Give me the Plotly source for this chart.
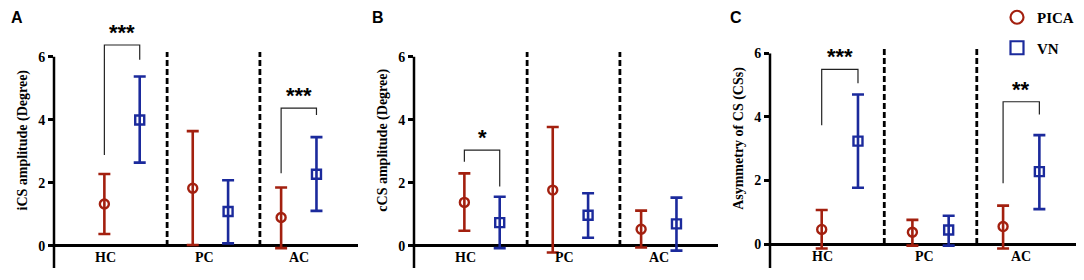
import plotly.graph_objects as go

# ---------------- data ----------------
groups = ["HC", "PC", "AC"]
series = ["PICA", "VN"]

# Panel A: iCS amplitude (Degree)
a_pica_mean = [1.33, 1.83, 0.90]
a_pica_up = [2.28, 3.64, 1.85]
a_pica_lo = [0.38, 0.03, -0.07]
a_vn_mean = [3.99, 1.09, 2.27]
a_vn_up = [5.37, 2.08, 3.45]
a_vn_lo = [2.64, 0.08, 1.11]

# Panel B: cCS amplitude (Degree)
b_pica_mean = [1.38, 1.77, 0.53]
b_pica_up = [2.30, 3.77, 1.12]
b_pica_lo = [0.48, -0.21, -0.05]
b_vn_mean = [0.74, 0.97, 0.70]
b_vn_up = [1.56, 1.67, 1.53]
b_vn_lo = [-0.07, 0.26, -0.15]

# Panel C: Asymmetry of CS (CSs)
c_pica_mean = [0.46, 0.37, 0.55]
c_pica_up = [1.07, 0.76, 1.21]
c_pica_lo = [-0.14, -0.05, -0.14]
c_vn_mean = [3.24, 0.44, 2.28]
c_vn_up = [4.71, 0.89, 3.43]
c_vn_lo = [1.77, -0.05, 1.10]

y_titles = ["iCS amplitude (Degree)", "cCS amplitude (Degree)", "Asymmetry of CS (CSs)"]
panel_letters = ["A", "B", "C"]
y_ticks = [0, 2, 4, 6]

# significance brackets: (panel, group index, top, left leg end, right leg end, label)
brackets = [
    (0, 0, 6.37, 2.88, 5.90, "***"),
    (0, 2, 4.37, 2.30, 4.15, "***"),
    (1, 0, 3.04, 2.67, 1.88, "*"),
    (2, 0, 5.50, 3.74, 5.06, "***"),
    (2, 2, 4.48, 1.91, 4.08, "**"),
]

# ---------------- style ----------------
RED = "#A3200F"
BLUE = "#1B2A9C"
SERIF = "Liberation Serif"
SANS = "Liberation Sans"
OFFSET = 0.2
PAGE_PAD = 8          # default body margin of the html page
W, H = 1084 - PAGE_PAD, 280 - PAGE_PAD


def px_x(x):
    return (x - PAGE_PAD) / W


def px_y(y):
    return 1 - (y - PAGE_PAD) / H


panels = [
    dict(mean=(a_pica_mean, a_vn_mean), up=(a_pica_up, a_vn_up), lo=(a_pica_lo, a_vn_lo),
         xdom=[px_x(54), px_x(358)], ydom=[px_y(268), px_y(12.5)], yr=[-0.7, 7.4],
         div=[0.51, 1.56], lx=17),
    dict(mean=(b_pica_mean, b_vn_mean), up=(b_pica_up, b_vn_up), lo=(b_pica_lo, b_vn_lo),
         xdom=[px_x(414), px_x(718)], ydom=[px_y(268), px_y(12.5)], yr=[-0.7, 7.4],
         div=[0.51, 1.56], lx=378),
    dict(mean=(c_pica_mean, c_vn_mean), up=(c_pica_up, c_vn_up), lo=(c_pica_lo, c_vn_lo),
         xdom=[px_x(770), px_x(1082)], ydom=[px_y(268), px_y(9)], yr=[-0.755, 7.4],
         div=[0.49, 1.51], lx=736),
]

fig = go.Figure()
shapes = []
annotations = []

for p, pan in enumerate(panels):
    xa = "x" if p == 0 else f"x{p+1}"
    ya = "y" if p == 0 else f"y{p+1}"
    for s, name in enumerate(series):
        color = RED if s == 0 else BLUE
        sym = "circle-open" if s == 0 else "square-open"
        off = -OFFSET if s == 0 else OFFSET
        xs = [g + off for g in range(len(groups))]
        m = pan["mean"][s]
        up = [u - v for u, v in zip(pan["up"][s], m)]
        lo = [v - l for l, v in zip(pan["lo"][s], m)]
        fig.add_trace(go.Scatter(
            x=xs, y=m, mode="markers", xaxis=xa, yaxis=ya, showlegend=False,
            marker=dict(symbol=sym, size=9, color=color, line=dict(width=2.4, color=color)),
            error_y=dict(type="data", array=up, arrayminus=lo, visible=True,
                         color=color, thickness=2.6, width=6),
            cliponaxis=False,
        ))
    # y axis line (from bottom to 6)
    shapes.append(dict(type="line", xref=f"{xa} domain", yref=ya, x0=0, x1=0,
                       y0=pan["yr"][0], y1=6, line=dict(color="black", width=2.5)))
    # dashed dividers
    for d in pan["div"]:
        shapes.append(dict(type="line", xref=xa, yref=ya, x0=d, x1=d, y0=0, y1=6.15,
                           line=dict(color="black", width=2.8, dash="6px,3px")))
    # category labels
    for g, lab in zip([-0.19, 0.93, 2.0], groups):
        annotations.append(dict(x=g, y=-0.38, xref=xa, yref=ya, text=lab, showarrow=False,
                                font=dict(family=SERIF, size=14, color="black", weight="bold"),
                                yanchor="middle"))
    # panel letter
    annotations.append(dict(x=px_x(pan["lx"]), y=px_y(18), xref="paper", yref="paper",
                            text=panel_letters[p], showarrow=False,
                            xanchor="center", yanchor="middle",
                            font=dict(family=SANS, size=16, color="black", weight="bold")))

for (p, g, top, l_end, r_end, lab) in brackets:
    xa = "x" if p == 0 else f"x{p+1}"
    ya = "y" if p == 0 else f"y{p+1}"
    x0, x1 = g - OFFSET, g + OFFSET
    shapes.append(dict(type="path", xref=xa, yref=ya,
                       path=f"M {x0},{l_end} L {x0},{top} L {x1},{top} L {x1},{r_end}",
                       line=dict(color="#222222", width=1.2)))
    annotations.append(dict(x=g, y=top, xref=xa, yref=ya, text=lab, showarrow=False,
                            yanchor="bottom", yshift=-2,
                            font=dict(family=SANS, size=22, color="black", weight="bold")))

# legend-only traces
fig.add_trace(go.Scatter(x=[None], y=[None], mode="markers", name="PICA", legendgroup="a",
                         marker=dict(symbol="circle-open", size=13, color=RED,
                                     line=dict(width=2.2, color=RED))))
fig.add_trace(go.Scatter(x=[None], y=[None], mode="markers", name="VN", legendgroup="b",
                         marker=dict(symbol="square-open", size=13, color=BLUE,
                                     line=dict(width=2.2, color=BLUE))))

layout = dict(
    width=W, height=H, margin=dict(l=0, r=0, t=0, b=0, autoexpand=False),
    paper_bgcolor="white", plot_bgcolor="white",
    showlegend=True,
    legend=dict(x=px_x(997), y=px_y(1), xanchor="left", yanchor="top",
                font=dict(family=SERIF, size=15, color="black", weight="bold"),
                traceorder="grouped", tracegroupgap=8, bgcolor="rgba(0,0,0,0)"),
    shapes=shapes, annotations=annotations,
)
for p, pan in enumerate(panels):
    xk = "xaxis" if p == 0 else f"xaxis{p+1}"
    yk = "yaxis" if p == 0 else f"yaxis{p+1}"
    ya = "y" if p == 0 else f"y{p+1}"
    xa = "x" if p == 0 else f"x{p+1}"
    layout[xk] = dict(domain=pan["xdom"], range=[-0.77, 2.67], anchor=ya,
                      showgrid=False, zeroline=False, showline=False,
                      showticklabels=False, ticks="", fixedrange=True)
    layout[yk] = dict(domain=pan["ydom"], range=pan["yr"], anchor=xa,
                      showgrid=False, showline=False,
                      zeroline=True, zerolinecolor="black", zerolinewidth=3,
                      tickvals=y_ticks, ticks="outside", ticklen=5, tickwidth=2.5,
                      tickcolor="black",
                      tickfont=dict(family=SERIF, size=14, color="black", weight="bold"),
                      title=dict(text=y_titles[p], standoff=7,
                                 font=dict(family=SERIF, size=14, color="black", weight="bold")))
fig.update_layout(**layout)

fig.write_html("out.html")
